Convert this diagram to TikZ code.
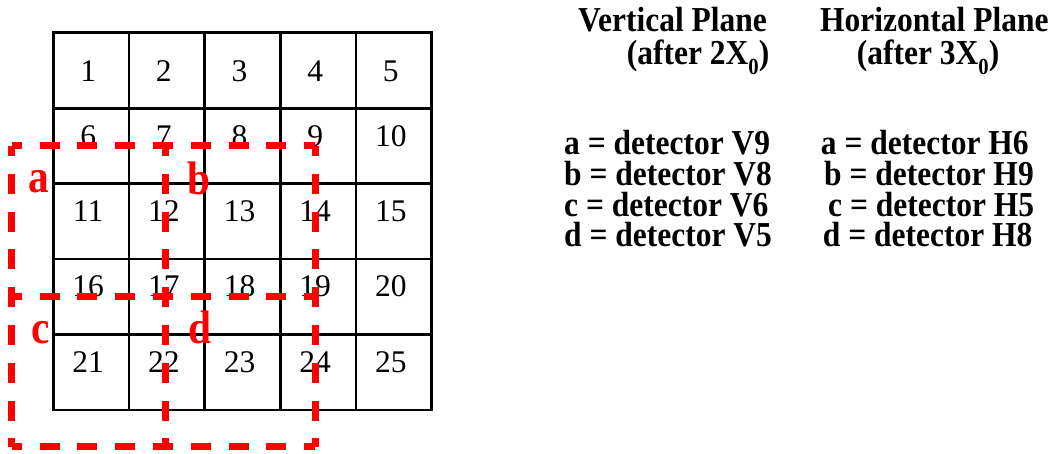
\documentclass[tikz,border=0pt]{standalone}
\usepackage{graphicx}
\usepackage{fontspec}
\setmainfont{Liberation Serif}
\newcommand{\subzero}{\raisebox{-10pt}{\fontsize{23}{23}\selectfont 0}}
\newcommand{\narrowtxt}[1]{\scalebox{0.9}[1]{#1}}
\newcommand{\narrowlab}[1]{\scalebox{0.88}[1]{#1}}
\begin{document}
\begin{tikzpicture}[x=1pt,y=-1pt,
  cellnum/.style={font=\fontsize{31.5}{31.5}\selectfont, inner sep=0, anchor=base},
  lab/.style={font=\fontsize{47}{47}\selectfont\bfseries, text=red, inner sep=0, anchor=base},
  txt/.style={font=\fontsize{35}{36}\selectfont\bfseries, inner sep=0, anchor=base west},
  gridline/.style={line width=2.7pt, black},
  reddash/.style={red, line width=7pt, dash pattern=on 20pt off 17.8pt, dash phase=10pt}]
\useasboundingbox (0,0) rectangle (1059,454);
% grid
\draw[gridline] (53.3,32.7) rectangle (431.7,410);
\foreach \i in {1,...,4} {
  \draw[gridline] ({53.3+75.68*\i},32.7) -- ({53.3+75.68*\i},410);
  \draw[gridline] (53.3,{32.7+75.46*\i}) -- (431.7,{32.7+75.46*\i});
}
% numbers
\foreach \r/\b in {0/81.7,1/146.7,2/221.7,3/296.7,4/372.7} {
  \foreach \c in {0,...,4} {
    \pgfmathtruncatemacro\n{5*\r+\c+1}
    \node[cellnum] (n\n) at ({53.3+75.68*(\c+0.5)-3},\b) {\n};
  }
}
% red dashed squares
\coordinate (h1a) at (11.7,146);   \coordinate (h1b) at (315,146);
\coordinate (h2a) at (11.7,296);   \coordinate (h2b) at (315,296);
\coordinate (h3a) at (11.7,446.7); \coordinate (h3b) at (315,446.7);
\coordinate (v1a) at (11.7,146);   \coordinate (v1b) at (11.7,446.7);
\coordinate (v2a) at (165.7,146);  \coordinate (v2b) at (165.7,446.7);
\coordinate (v3a) at (315,146);    \coordinate (v3b) at (315,446.7);
\draw[reddash] (h1a) -- (h1b);
\draw[reddash] (h2a) -- (h2b);
\draw[reddash] (h3a) -- (h3b);
\draw[reddash] (v1a) -- (v1b);
\draw[reddash] (v2a) -- (v2b);
\draw[reddash] (v3a) -- (v3b);
% labels
\node[lab] (la) at (39,192.3) {\narrowlab{a}};
\node[lab] (lb) at (198.5,194.3) {\narrowlab{b}};
\node[lab] (lc) at (41,343.3) {\narrowlab{c}};
\node[lab] (ld) at (200.3,343.3) {\narrowlab{d}};
% headers
\node[txt] (vh1) at (578,31.7) {\narrowtxt{Vertical Plane}};
\node[txt] (vh2) at (626.7,64.5) {\narrowtxt{(after 2X\subzero)}};
\node[txt] (hh1) at (820,31.7) {\narrowtxt{Horizontal Plane}};
\node[txt] (hh2) at (856.7,64.5) {\narrowtxt{(after 3X\subzero)}};
% lists
\node[txt] (va) at (564,155) {\narrowtxt{a = detector V9}};
\node[txt] (vb) at (564,185.7) {\narrowtxt{b = detector V8}};
\node[txt] (vc) at (564,216.4) {\narrowtxt{c = detector V6}};
\node[txt] (vd) at (564,247) {\narrowtxt{d = detector V5}};
\node[txt] (ha) at (820.7,155) {\narrowtxt{a = detector H6}};
\node[txt] (hb) at (824,185.7) {\narrowtxt{b = detector H9}};
\node[txt] (hc) at (828,216.4) {\narrowtxt{c = detector H5}};
\node[txt] (hd) at (822.7,247) {\narrowtxt{d = detector H8}};
\end{tikzpicture}
\end{document}
